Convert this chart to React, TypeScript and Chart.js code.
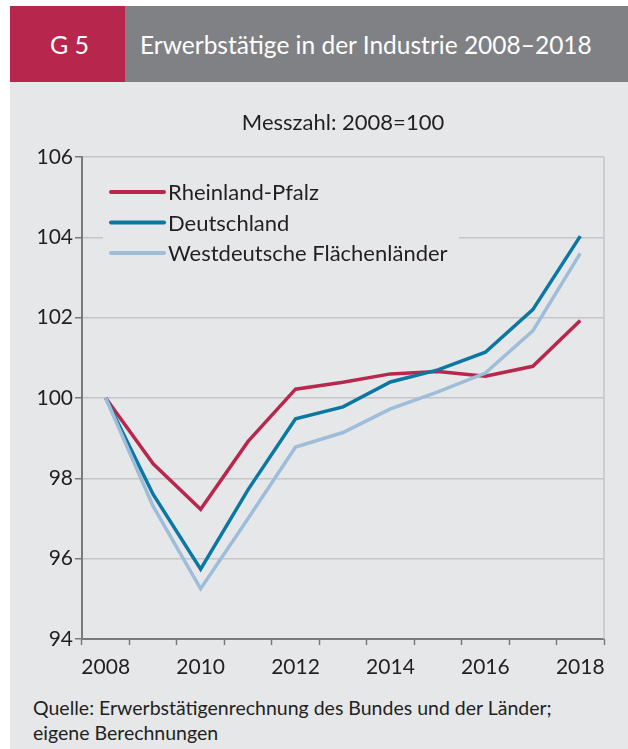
import React, { useEffect, useRef } from "react";
import { Chart, registerables } from "chart.js";

Chart.register(...registerables);

const years = ["2008", "2009", "2010", "2011", "2012", "2013", "2014", "2015", "2016", "2017", "2018"];
const rheinlandPfalz = [100, 98.36, 97.23, 98.92, 100.22, 100.39, 100.6, 100.66, 100.54, 100.79, 101.93];
const deutschland = [100, 97.6, 95.74, 97.72, 99.48, 99.78, 100.4, 100.7, 101.14, 102.2, 104.03];
const westdeutsche = [100, 97.3, 95.25, 97.0, 98.78, 99.14, 99.73, 100.15, 100.62, 101.67, 103.6];
const seriesNames = ["Rheinland-Pfalz", "Deutschland", "Westdeutsche Flächenländer"];
const yTicks = [94, 96, 98, 100, 102, 104, 106];
const subtitle = "Messzahl: 2008=100";

const FONT = "Lato";
const PANEL = "#e6e7e9";
const TEXT = "#231f20";

const legendPlugin = {
  id: "customLegend",
  afterDatasetsDraw(chart: any) {
    const { ctx, chartArea } = chart;
    ctx.save();
    // subtitle
    ctx.font = `22px ${FONT}`;
    ctx.fillStyle = TEXT;
    ctx.textAlign = "center";
    ctx.textBaseline = "middle";
    ctx.fillText(subtitle, (chartArea.left + chartArea.right) / 2, chartArea.top - 34);
    // legend
    const x0 = chartArea.left + 21;
    const y0 = chartArea.top + 13;
    ctx.fillStyle = PANEL;
    ctx.fillRect(x0, y0, 356, 105);
    ctx.textAlign = "left";
    chart.data.datasets.forEach((ds: any, i: number) => {
      const y = chartArea.top + 35 + i * 30.5;
      ctx.strokeStyle = ds.borderColor;
      ctx.lineWidth = 4;
      ctx.lineCap = "round";
      ctx.beginPath();
      ctx.moveTo(chartArea.left + 29, y);
      ctx.lineTo(chartArea.left + 82, y);
      ctx.stroke();
      ctx.fillStyle = TEXT;
      ctx.fillText(ds.label, chartArea.left + 86, y + 1);
    });
    ctx.restore();
  },
};

const borderPlugin = {
  id: "rightBorder",
  beforeDatasetsDraw(chart: any) {
    const { ctx, chartArea } = chart;
    ctx.save();
    ctx.strokeStyle = "#c6c6c8";
    ctx.lineWidth = 1.5;
    ctx.beginPath();
    ctx.moveTo(chartArea.right, chartArea.top);
    ctx.lineTo(chartArea.right, chartArea.bottom);
    ctx.stroke();
    ctx.restore();
  },
};

export default function App() {
  const ref = useRef<HTMLCanvasElement | null>(null);

  useEffect(() => {
    document.body.style.margin = "0";
    const canvas = ref.current!;
    const chart = new Chart(canvas, {
      type: "line",
      data: {
        labels: years,
        datasets: [
          { label: seriesNames[0], data: rheinlandPfalz, order: 2, borderColor: "#b8284e", borderWidth: 3.5, pointRadius: 0, tension: 0 },
          { label: seriesNames[1], data: deutschland, order: 1, borderColor: "#0a78a3", borderWidth: 3.5, pointRadius: 0, tension: 0 },
          { label: seriesNames[2], data: westdeutsche, order: 0, borderColor: "#9dbdd9", borderWidth: 3.5, pointRadius: 0, tension: 0 },
        ],
      },
      options: {
        animation: false,
        responsive: false,
        maintainAspectRatio: false,
        layout: { padding: { top: 75, left: 0, right: 24, bottom: 0 } },
        plugins: {
          legend: { display: false },
          tooltip: { enabled: false },
          title: { display: false },
        },
        scales: {
          x: {
            type: "category",
            offset: true,
            afterFit: (s: any) => { s.height = 43; },
            grid: { offset: true, drawOnChartArea: false, drawTicks: true, tickLength: 6, tickColor: "#7a7a7c", tickWidth: 1.5 },
            border: { color: "#7a7a7c", width: 2 },
            ticks: {
              autoSkip: false,
              maxRotation: 0,
              padding: 10,
              color: TEXT,
              font: { family: FONT, size: 21 },
              callback: function (this: any, v: any, i: number) { return i % 2 === 0 ? years[i] : ""; },
            },
          },
          y: {
            min: 94,
            max: 106,
            afterFit: (s: any) => { s.width = 72; },
            afterBuildTicks: (s: any) => { s.ticks = yTicks.map((v) => ({ value: v })); },
            grid: { color: "#c6c6c8", lineWidth: 1.5, tickLength: 7, tickColor: "#7a7a7c" },
            border: { color: "#7a7a7c", width: 2 },
            ticks: { padding: 2, color: TEXT, font: { family: FONT, size: 21 } },
          },
        },
      },
      plugins: [borderPlugin, legendPlugin],
    });
    return () => chart.destroy();
  }, []);

  return (
    <div style={{ position: "relative", width: 628, height: 749, background: "#fff", overflow: "hidden", fontFamily: FONT }}>
      <div style={{ position: "absolute", left: 10, top: 6, width: 115, height: 76, background: "#b7264c", color: "#fff", fontSize: 25, display: "flex", alignItems: "center", justifyContent: "center", paddingLeft: 4, boxSizing: "border-box" }}>G 5</div>
      <div style={{ position: "absolute", left: 125, top: 6, width: 503, height: 76, background: "#808184", color: "#fff", fontSize: 24.5, display: "flex", alignItems: "center", paddingLeft: 15, boxSizing: "border-box", whiteSpace: "nowrap" }}>Erwerbstätige in der Industrie 2008–2018</div>
      <div style={{ position: "absolute", left: 10, top: 82, width: 618, height: 667, background: PANEL }} />
      <canvas ref={ref} width={618} height={600} style={{ position: "absolute", left: 10, top: 82, width: 618, height: 600 }} />
      <div style={{ position: "absolute", left: 33, top: 695, color: TEXT, fontSize: 19.5, lineHeight: "25px", whiteSpace: "nowrap" }}>
        Quelle: Erwerbstätigenrechnung des Bundes und der Länder;<br />eigene Berechnungen
      </div>
    </div>
  );
}
